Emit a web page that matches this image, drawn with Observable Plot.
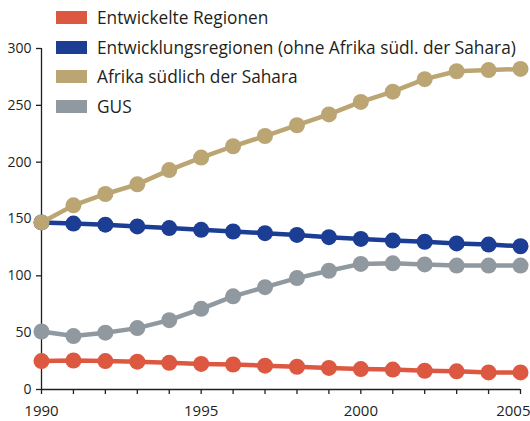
<!DOCTYPE html>
<html><head><meta charset="utf-8">
<script src="https://cdn.jsdelivr.net/npm/d3@7"></script>
<script src="https://cdn.jsdelivr.net/npm/@observablehq/plot@0.6"></script>
<style>
body{margin:0;background:#fff;font-family:"Open Sans",sans-serif;}
#wrap{position:relative;width:530px;height:421px;overflow:hidden;}
#legend{position:absolute;left:56px;top:3px;font-size:17.3px;color:#231f20;}
.row{display:flex;align-items:center;height:29.6px;}
.sw{width:31px;height:13px;margin-right:10px;}
</style></head>
<body><div id="wrap"><div id="chart"></div><div id="legend"></div></div>
<script>
const years = [1990,1991,1992,1993,1994,1995,1996,1997,1998,1999,2000,2001,2002,2003,2004,2005];
const seriesNames = ["Entwickelte Regionen","Entwicklungsregionen (ohne Afrika südl. der Sahara)","Afrika südlich der Sahara","GUS"];
const colors = ["#dc5841","#1b3d93","#bba673","#8f999f"];
const entwickelt = [25,25.5,25,24.5,23.5,22.5,22,21,20,19,18,17.5,16.5,16,15,15];
const entwicklung = [147,146,145,143.5,142,140.5,139,137.5,136,134,132.5,131,130,128.5,127.5,126];
const afrika = [147,162,172,180.5,193,204,214,223,232.5,242,253,262,273,280,281,282];
const gus = [51,47,50,54,61,71,82,90,98,104.5,110.5,111,110,109,109,109];
const yTicks = [0,50,100,150,200,250,300];
const xLabels = [1990,1995,2000,2005];

const values = [entwickelt, entwicklung, afrika, gus];
const data = [];
values.forEach((arr,i)=>arr.forEach((v,j)=>data.push({year:years[j],value:v,series:seriesNames[i]})));
const order = [0,1,3,2];
const fg = "#231f20";

const seriesMarks = [];
for (const i of order) {
  const d = data.filter(r=>r.series===seriesNames[i]);
  seriesMarks.push(Plot.line(d,{x:"year",y:"value",stroke:colors[i],strokeWidth:4.5}));
  seriesMarks.push(Plot.dot(d,{x:"year",y:"value",fill:colors[i],r:8}));
}
const chart = Plot.plot({
  width:530,height:421,
  marginLeft:41,marginRight:10,marginTop:48,marginBottom:32,
  style:{fontFamily:"Open Sans, sans-serif",color:fg,background:"transparent",overflow:"visible"},
  x:{domain:[1990,2005],label:null},
  y:{domain:[0,300],label:null},
  marks:[
    Plot.ruleX([1990],{y1:0,y2:300,stroke:fg,strokeWidth:1.3}),
    Plot.ruleY([0],{x1:1990,x2:2005,stroke:fg,strokeWidth:1.3}),
    Plot.axisY({ticks:yTicks,tickSize:5,tickPadding:5,fontSize:14,stroke:fg,strokeWidth:1.3,fill:fg,label:null}),
    Plot.axisX({ticks:years,tickSize:5,tickFormat:()=>"",stroke:fg,strokeWidth:1.3,label:null}),
    Plot.text(xLabels.filter(d=>d<2005),{x:d=>d,y:0,dy:22,text:d=>String(d),fontSize:15,fill:fg}),
    Plot.text(xLabels.filter(d=>d===2005),{x:d=>d,y:0,dy:22,dx:10,textAnchor:"end",text:d=>String(d),fontSize:15,fill:fg}),
    ...seriesMarks
  ]
});
document.getElementById("chart").appendChild(chart);
const lg = document.getElementById("legend");
seriesNames.forEach((n,i)=>{
  const r=document.createElement("div");r.className="row";
  r.innerHTML=`<div class="sw" style="background:${colors[i]}"></div><span>${n}</span>`;
  lg.appendChild(r);
});
</script></body></html>
